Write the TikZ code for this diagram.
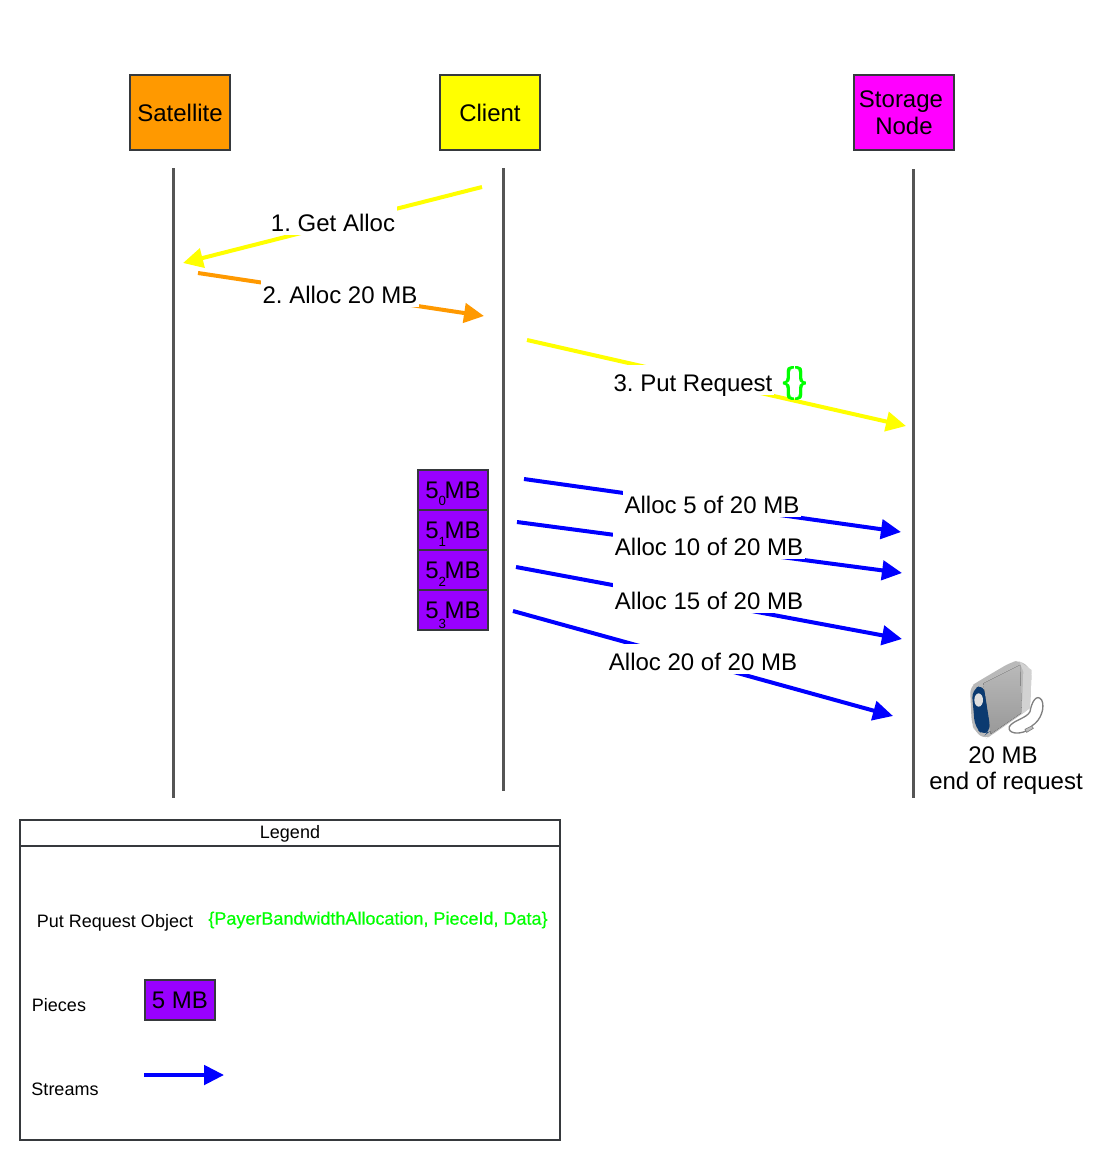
\documentclass[tikz,border=0pt]{standalone}
\usepackage{fontspec}
\setmainfont{Liberation Sans}
\newfontfamily\fakebold[FakeBold=0.5]{Liberation Sans}
\usepackage{xcolor}
\usetikzlibrary{arrows.meta, positioning}
\definecolor{boxline}{HTML}{36393D}
\definecolor{lifegray}{HTML}{555555}
\definecolor{piecefill}{HTML}{9900FF}
\definecolor{satfill}{HTML}{FF9900}
\definecolor{clientfill}{HTML}{FFFF00}
\definecolor{storagefill}{HTML}{FF00FF}
\definecolor{streamblue}{HTML}{0000FF}
\definecolor{bracegreen}{HTML}{00FF00}
\definecolor{drivenavy}{HTML}{0B3A70}
\newcommand{\pieceidx}[2]{5\makebox[0pt][l]{\raisebox{-#2}{\fontsize{10}{10}\selectfont #1}}\hspace{4.5pt}MB}
\frenchspacing

\begin{document}
\begin{tikzpicture}[x=0.75pt, y=-0.75pt, node distance=0pt,
    actor/.style={rectangle, draw=boxline, line width=1.5pt, outer sep=0pt, minimum width=75pt, minimum height=56.5pt, inner sep=0pt, align=center, font=\fontsize{18}{20}\selectfont},
    piece/.style={rectangle, draw=boxline, line width=1.5pt, outer sep=0pt, fill=piecefill, minimum width=52.5pt, minimum height=30pt, inner sep=0pt, text height=13pt, text depth=0pt, font=\fontsize{18}{18}\selectfont},
    lifeline/.style={lifegray, line width=2.25pt},
    arrow/.style={line width=3pt, -{Triangle[length=15pt, width=14.5pt]}},
    msg/.style={fill=white, inner xsep=1.5pt, inner ysep=0pt, yshift=2.25pt, text height=20pt, text depth=2.5pt, font=\fontsize{18}{18}\selectfont},
    legendtext/.style={inner sep=0pt, font=\fontsize{13.5}{14}\selectfont}]

    \useasboundingbox (0,0) rectangle (1102,1160);

    \node [actor, fill=satfill] (satellite) at (180,112.7) {Satellite};
    \node [actor, fill=clientfill] (client) at (490,112.7) {Client};
    \node [actor, fill=storagefill] (storage) at (904,112.7) {Storage\hspace*{4.5pt}\\Node};

    \coordinate (sattop) at (173.7,168);
    \coordinate (satbot) at (173.7,798);
    \coordinate (clitop) at (503.7,168);
    \coordinate (clibot) at (503.7,791);
    \coordinate (stotop) at (913.7,169);
    \coordinate (stobot) at (913.7,798);
    \draw [lifeline] (sattop) -- (satbot);
    \draw [lifeline] (clitop) -- (clibot);
    \draw [lifeline] (stotop) -- (stobot);

    \coordinate (a1) at (482,187);  \coordinate (b1) at (183,263);
    \coordinate (a2) at (198,273);  \coordinate (b2) at (484,316);
    \coordinate (a3) at (527,340);  \coordinate (b3) at (906,426);
    \coordinate (a4) at (524,479);  \coordinate (b4) at (901,532);
    \coordinate (a5) at (517,522);  \coordinate (b5) at (902,573);
    \coordinate (a6) at (516,567);  \coordinate (b6) at (902,639);
    \coordinate (a7) at (513,611);  \coordinate (b7) at (893,716);

    \draw [arrow, clientfill] (a1) -- (b1);
    \draw [arrow, satfill] (a2) -- (b2);
    \draw [arrow, clientfill] (a3) -- (b3);
    \draw [arrow, streamblue] (a4) -- (b4);
    \draw [arrow, streamblue] (a5) -- (b5);
    \draw [arrow, streamblue] (a6) -- (b6);
    \draw [arrow, streamblue] (a7) -- (b7);

    \node [msg] (getalloc) at (333,223) {1. Get Alloc};
    \node [msg] (alloc) at (340,295) {2. Alloc 20 MB};
    \node [msg] (putreq) at (693,383) {3. Put Request};
    \node [font=\fakebold\fontsize{27}{27}\selectfont, text=bracegreen, inner sep=0pt] (putobj) at (794.5,383) {\{\}};
    \node [msg] (alloc5) at (712,505) {Alloc 5 of 20 MB};
    \node [msg] (alloc10) at (709,547) {Alloc 10 of 20 MB};
    \node [msg] (alloc15) at (709,601) {Alloc 15 of 20 MB};
    \node [msg] (alloc20) at (703,662) {Alloc 20 of 20 MB};

    \node [piece] (piece0) at (453,490) {\pieceidx{0}{4.8pt}};
    \node [piece, below=0pt of piece0] (piece1) {\pieceidx{1}{6pt}};
    \node [piece, below=0pt of piece1] (piece2) {\pieceidx{2}{6pt}};
    \node [piece, below=0pt of piece2] (piece3) {\pieceidx{3}{7.5pt}};

    \begin{scope}[shift={(920,640)}, x=0.25pt, y=-0.25pt]
        \draw [gray, line width=1pt] (335,258) .. controls (365,240) and (375,200) .. (365,180) .. controls (350,160) and (335,185) .. (330,215) .. controls (320,235) and (280,240) .. (268,260) .. controls (262,280) and (295,285) .. (320,272);
        \draw [gray, fill=lightgray, line width=.5pt] (315,268) -- (335,258) -- (340,265) -- (320,277) -- cycle;
        \fill [gray!55, rounded corners=5pt] (150,140) -- (175,124) -- (270,68) -- (300,60) -- (335,90) -- (330,205) -- (215,285) -- (195,298) -- (165,275) -- (155,250) -- cycle;
        \fill [top color=gray!55, middle color=gray!22, bottom color=gray!80] (190,130) -- (300,75) -- (305,218) -- (212,282) -- cycle;
        \fill [gray!35] (298,64) -- (335,90) -- (330,205) -- (305,222) -- (310,95) -- cycle;
        \fill [drivenavy, rounded corners=6pt] (155,150) -- (190,132) -- (212,272) -- (192,288) -- (165,262) -- cycle;
        \fill [gray!25] (176,180) ellipse [x radius=13, y radius=20];
    \end{scope}
    \node [inner sep=0pt, font=\fontsize{18}{18}\selectfont] (drivesize) at (1003,755) {20 MB};
    \node [inner sep=0pt, font=\fontsize{18}{18}\selectfont] (driveend) at (1006,783) {end of request};

    \node [draw=boxline, line width=1.1pt, minimum width=405pt, minimum height=240pt, inner sep=0pt] (legend) at (290,980) {};
    \coordinate (headl) at (20,846);
    \coordinate (headr) at (560,846);
    \draw [boxline, line width=1.1pt] (headl) -- (headr);
    \node [legendtext] (legendtitle) at (290,834) {Legend};
    \node [legendtext] (putlabel) at (115,923) {Put Request Object};
    \node [legendtext, text=bracegreen, font=\fakebold\fontsize{13.5}{14}\selectfont] (putfields) at (378,920) {\{PayerBandwidthAllocation, PieceId, Data\}};
    \node [legendtext] (pieceslabel) at (59,1005) {Pieces};
    \node [piece] (legendpiece) at (180,1000) {5 MB};
    \node [legendtext] (streamslabel) at (65,1089) {Streams};
    \coordinate (streama) at (144,1075);
    \coordinate (streamb) at (224,1075);
    \draw [arrow, streamblue] (streama) -- (streamb);
\end{tikzpicture}
\end{document}
